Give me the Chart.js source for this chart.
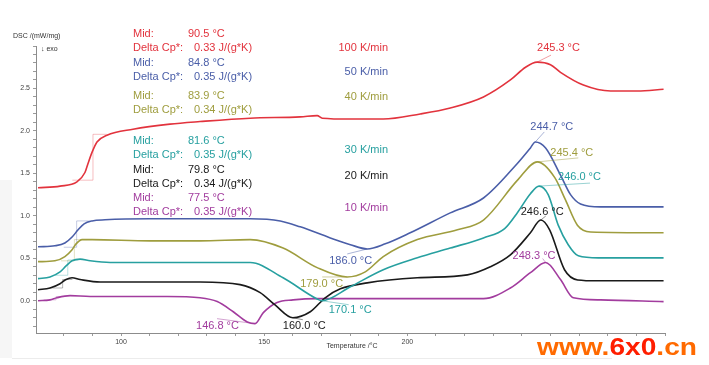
<!DOCTYPE html>
<html>
<head>
<meta charset="utf-8">
<script src="https://cdn.jsdelivr.net/npm/chart.js@4.4.1/dist/chart.umd.min.js"></script>
<style>
  html, body { margin: 0; padding: 0; background: #fff; }
  #wrap { position: relative; width: 709px; height: 365px; }
</style>
</head>
<body>
<div id="wrap"><canvas id="dsc" width="709" height="365"></canvas></div>
<script>
// DSC curves, one per heating rate (temperature in °C, DSC in mW/mg)
const rates = ['100 K/min', '50 K/min', '40 K/min', '30 K/min', '20 K/min', '10 K/min'];
const colors = ['#e2333d', '#4a5ea8', '#9f9d3e', '#27a0a0', '#1a1a1a', '#a23c9e'];
const midTemps = [90.5, 84.8, 83.9, 81.6, 79.8, 77.5];
const deltaCp = [0.33, 0.35, 0.34, 0.35, 0.34, 0.35];
const peakTemps = [245.3, 244.7, 245.4, 246.0, 246.6, 248.3];
const coldTemps = [null, 186.0, 179.0, 170.1, 160.0, 146.8];

const temp100 = [71.0, 78.7, 84.6, 87.4, 88.5, 89.9, 91.6, 95.1, 104.2, 117.1, 127.6, 145.1, 162.6, 168.5, 170.3, 180.0, 191.6, 204.5, 215.0, 226.6, 236.0, 241.3, 245.3, 250.0, 253.5, 261.5, 271.0, 280.4, 289.5];
const dsc100  = [1.33, 1.35, 1.40, 1.51, 1.62, 1.75, 1.87, 1.95, 2.02, 2.08, 2.11, 2.15, 2.165, 2.18, 2.15, 2.14, 2.14, 2.20, 2.27, 2.40, 2.60, 2.75, 2.81, 2.78, 2.69, 2.54, 2.47, 2.47, 2.49];

const temp50 = [71.0, 76.9, 80.4, 82.9, 85.0, 87.1, 89.9, 94.4, 110.1, 127.6, 145.1, 155.6, 162.6, 173.1, 180.1, 186.0, 192.3, 201.0, 215.0, 226.6, 238.5, 243.0, 244.7, 248.3, 253.5, 257.0, 260.5, 267.5, 289.5];
const dsc50  = [0.635, 0.647, 0.68, 0.75, 0.835, 0.906, 0.94, 0.953, 0.965, 0.965, 0.965, 0.94, 0.87, 0.74, 0.66, 0.61, 0.67, 0.80, 1.035, 1.21, 1.62, 1.80, 1.87, 1.80, 1.48, 1.25, 1.14, 1.105, 1.105];

const temp40 = [71.0, 76.9, 80.4, 82.9, 84.3, 86.4, 89.9, 110.1, 127.6, 145.1, 156.6, 168.5, 179.0, 185.3, 191.6, 203.5, 217.5, 226.6, 238.5, 245.4, 251.5, 255.2, 259.4, 264.0, 289.5];
const dsc40  = [0.46, 0.47, 0.52, 0.60, 0.67, 0.72, 0.72, 0.705, 0.705, 0.72, 0.62, 0.39, 0.28, 0.34, 0.52, 0.72, 0.835, 0.95, 1.42, 1.635, 1.45, 1.19, 0.89, 0.81, 0.80];

const temp30 = [71.0, 75.2, 78.7, 80.8, 82.9, 85.7, 89.2, 96.2, 127.6, 145.1, 156.6, 168.5, 170.1, 180.1, 191.6, 203.5, 215.0, 226.6, 234.0, 238.5, 243.0, 246.0, 249.2, 252.7, 256.2, 259.7, 266.7, 289.5];
const dsc30  = [0.26, 0.28, 0.34, 0.41, 0.47, 0.49, 0.47, 0.45, 0.45, 0.45, 0.27, 0.02, 0.0, 0.165, 0.365, 0.505, 0.62, 0.74, 0.85, 1.04, 1.26, 1.35, 1.25, 0.89, 0.66, 0.53, 0.505, 0.505];

const temp20 = [71.0, 75.2, 78.7, 80.8, 82.9, 85.7, 92.7, 127.6, 141.6, 148.6, 153.8, 160.0, 166.1, 171.3, 176.6, 186.0, 203.5, 221.0, 229.0, 236.0, 243.0, 246.6, 249.7, 254.9, 259.5, 266.5, 289.5];
const dsc20  = [0.13, 0.15, 0.20, 0.25, 0.27, 0.25, 0.22, 0.22, 0.19, 0.095, -0.05, -0.20, -0.13, 0.035, 0.14, 0.21, 0.27, 0.305, 0.40, 0.54, 0.80, 0.95, 0.835, 0.365, 0.245, 0.235, 0.235];

const temp10 = [71.0, 75.2, 77.6, 82.2, 89.2, 116.1, 127.6, 133.6, 139.2, 144.1, 146.8, 149.7, 154.5, 160.1, 168.5, 226.6, 236.0, 243.0, 248.3, 253.5, 258.0, 267.5, 289.5];
const dsc10  = [0.0, 0.01, 0.035, 0.06, 0.05, 0.05, 0.035, -0.01, -0.13, -0.25, -0.27, -0.14, -0.02, 0.01, 0.025, 0.025, 0.15, 0.33, 0.45, 0.25, 0.035, 0.01, -0.01];

// glass transition construction steps (onset baseline -> mid -> end baseline)
const stepTemps = [[83.0, 90.2, 90.2, 95.0], [80.0, 84.5, 84.5, 89.0], [79.0, 83.7, 83.7, 88.0], [77.0, 81.4, 81.4, 85.0], [75.0, 79.6, 79.6, 83.0], [73.0, 77.3, 77.3, 80.0]];
const stepDsc = [[1.42, 1.42, 1.96, 1.96], [0.63, 0.63, 0.94, 0.94], [0.47, 0.47, 0.72, 0.72], [0.30, 0.30, 0.48, 0.48], [0.15, 0.15, 0.25, 0.25], [0.01, 0.01, 0.05, 0.05]];

const xLabels = [100, 150, 200];
const yLabels = [0, 0.5, 1.0, 1.5, 2.0, 2.5];

const temps = [temp100, temp50, temp40, temp30, temp20, temp10];
const dscs = [dsc100, dsc50, dsc40, dsc30, dsc20, dsc10];
const FONT = '"Liberation Sans", Arial, sans-serif';

function pts(xs, ys) { return xs.map(function (x, i) { return { x: x, y: ys[i] }; }); }

var datasets = [];
temps.forEach(function (t, i) {
  datasets.push({
    label: rates[i], data: pts(t, dscs[i]), borderColor: colors[i], borderWidth: 1.6,
    pointRadius: 0, showLine: true, cubicInterpolationMode: 'monotone'
  });
});
stepTemps.forEach(function (t, i) {
  datasets.push({
    label: 'step ' + rates[i], data: pts(t, stepDsc[i]), borderColor: colors[i] + '66', borderWidth: 0.8,
    pointRadius: 0, showLine: true, tension: 0
  });
});

// value on a curve closest to a temperature
function valueAt(i, temp) {
  var best = 0, t = temps[i];
  for (var k = 0; k < t.length; k++) { if (Math.abs(t[k] - temp) < Math.abs(t[best] - temp)) best = k; }
  return dscs[i][best];
}

const textPlugin = {
  id: 'dscText',
  beforeDraw(chart) {
    var ctx = chart.ctx;
    ctx.save();
    ctx.fillStyle = '#f6f6f6';
    ctx.fillRect(0, 180, 12, 178);
    ctx.fillStyle = '#ececec';
    ctx.fillRect(12, 358, 600, 1);
    ctx.restore();
  },
  afterDatasetsDraw(chart) {
    var ctx = chart.ctx, xs = chart.scales.x, ys = chart.scales.y;
    ctx.save();
    ctx.textBaseline = 'middle';

    // axis titles
    ctx.fillStyle = '#333';
    ctx.font = '7px ' + FONT;
    ctx.textAlign = 'left';
    ctx.fillText('DSC /(mW/mg)', 13, 36);
    ctx.fillText('↓ exo', 41, 49);
    ctx.textAlign = 'center';
    ctx.fillText('Temperature /°C', 352, 346);

    // result blocks
    ctx.font = '11px ' + FONT;
    var midY = [34, 63, 96, 141, 170, 198];
    var rateY = [48, 72, 97, 150, 176, 208];
    for (var i = 0; i < rates.length; i++) {
      ctx.fillStyle = colors[i];
      ctx.textAlign = 'left';
      ctx.fillText('Mid:', 133, midY[i]);
      ctx.fillText(midTemps[i].toFixed(1) + ' °C', 188, midY[i]);
      ctx.fillText('Delta Cp*:', 133, midY[i] + 14);
      ctx.fillText(deltaCp[i].toFixed(2) + ' J/(g*K)', 194, midY[i] + 14);
      ctx.textAlign = 'right';
      ctx.fillText(rates[i], 388, rateY[i]);
    }

    // peak labels: [label dx, label dy, leader dx, leader dy]
    var peakOff = [[0, -14, 14, -7], [-5, -15, 9, -10], [13, -9, 41, -4], [19, -9, 51, -3], [-20, -8, 5, -4], [-33, -7, -3, -4]];
    var coldOff = [null, [-38, 12, -20, 5], [-47, 7, -25, 0], [7, 9, 27, 4], [-10, 8, 10, 2], [-59, 2, -38, -5]];
    ctx.textAlign = 'left';
    ctx.lineWidth = 0.8;
    for (var j = 0; j < rates.length; j++) {
      var marks = [[peakTemps[j], peakOff[j]], [coldTemps[j], coldOff[j]]];
      marks.forEach(function (m) {
        if (m[0] === null) return;
        var px = xs.getPixelForValue(m[0]);
        var py = ys.getPixelForValue(valueAt(j, m[0]));
        var o = m[1];
        ctx.strokeStyle = colors[j] + '99';
        ctx.beginPath();
        ctx.moveTo(px, py);
        ctx.lineTo(px + o[2], py + o[3]);
        ctx.stroke();
        ctx.fillStyle = colors[j];
        ctx.fillText(m[0].toFixed(1) + ' °C', px + o[0], py + o[1]);
      });
    }
    ctx.restore();
  },
  afterDraw(chart) {
    // watermark
    var ctx = chart.ctx;
    ctx.save();
    ctx.font = 'bold 24px ' + FONT;
    ctx.textBaseline = 'alphabetic';
    ctx.textAlign = 'left';
    var parts = [['www.', '#ff6a00'], ['6x0', '#ff1e00'], ['.cn', '#ff6a00']];
    var total = 0;
    parts.forEach(function (p) { total += ctx.measureText(p[0]).width; });
    ctx.translate(537, 355);
    ctx.scale(160 / total, 1);
    var x = 0;
    parts.forEach(function (p) {
      ctx.fillStyle = p[1];
      ctx.fillText(p[0], x, 0);
      x += ctx.measureText(p[0]).width;
    });
    ctx.restore();
  }
};

new Chart(document.getElementById('dsc'), {
  type: 'scatter',
  data: { datasets: datasets },
  options: {
    responsive: false,
    animation: false,
    layout: { padding: { top: 46, right: 44, left: 0, bottom: 0 } },
    plugins: { legend: { display: false }, tooltip: { enabled: false } },
    scales: {
      x: {
        type: 'linear', min: 70.3, max: 290,
        afterFit: function (s) { s.height = 32; },
        border: { color: '#8c8c8c', width: 1 },
        grid: { drawOnChartArea: false, tickLength: 3, color: '#9a9a9a' },
        ticks: {
          stepSize: 10, autoSkip: false, maxRotation: 0, includeBounds: false, padding: 2,
          color: '#444', font: { size: 7, family: FONT },
          callback: function (v) { return xLabels.indexOf(Math.round(v)) >= 0 ? String(Math.round(v)) : ''; }
        }
      },
      y: {
        type: 'linear', min: -0.38, max: 3.0,
        afterFit: function (s) { s.width = 36; },
        border: { color: '#8c8c8c', width: 1 },
        grid: { drawOnChartArea: false, tickLength: 3, color: '#9a9a9a' },
        ticks: {
          stepSize: 0.1, autoSkip: false, includeBounds: false, padding: 3,
          color: '#444', font: { size: 7, family: FONT },
          callback: function (v) {
            var hit = yLabels.some(function (l) { return Math.abs(l - v) < 1e-6; });
            return hit ? v.toFixed(1) : '';
          }
        }
      }
    }
  },
  plugins: [textPlugin]
});
</script>
</body>
</html>
